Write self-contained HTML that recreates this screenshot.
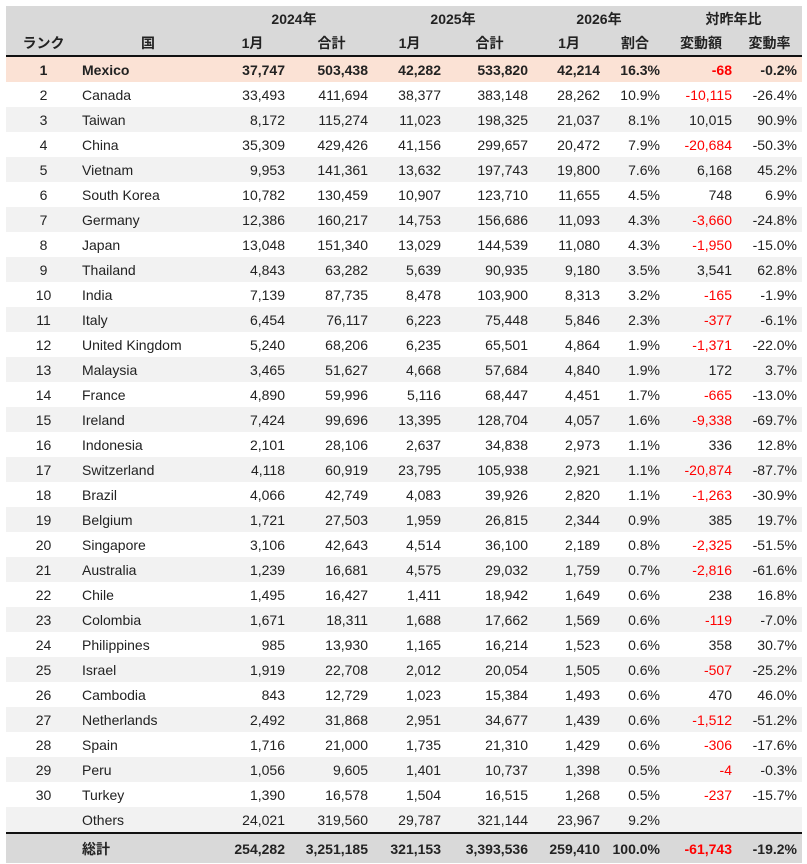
<!DOCTYPE html>
<html><head><meta charset="utf-8"><style>
body{margin:0;background:#fff;width:807px;height:864px;overflow:hidden}
table{position:absolute;left:6px;top:6px;border-collapse:collapse;table-layout:fixed;width:796px;font-family:"Liberation Sans","Noto Sans CJK JP",sans-serif;font-size:14px;color:#222}
td,th{padding:0 5px 0 0;height:25px;white-space:nowrap;text-align:right;overflow:visible}
th{background:#d9d9d9;font-weight:bold;text-align:center;padding:0}
tr.h2 th{border-bottom:2px solid #111;height:24px}
td.r{text-align:center;padding:0}
td.c{text-align:left;padding-left:1px}
tr.g td{background:#f2f2f2}
tr.m td{background:#fbe2d5;font-weight:bold}
tr.t td{background:#d9d9d9;font-weight:bold;border-top:2px solid #111;height:29px}
.n{color:#f00}
</style></head><body>
<table>
<colgroup><col style="width:75px"><col style="width:134px"><col style="width:75px"><col style="width:83px"><col style="width:73px"><col style="width:87px"><col style="width:72px"><col style="width:60px"><col style="width:72px"><col style="width:65px"></colgroup>
<tr><th></th><th></th><th colspan="2">2024年</th><th colspan="2">2025年</th><th colspan="2">2026年</th><th colspan="2">対昨年比</th></tr>
<tr class="h2"><th>ランク</th><th>国</th><th>1月</th><th>合計</th><th>1月</th><th>合計</th><th>1月</th><th>割合</th><th>変動額</th><th>変動率</th></tr>
<tr class="m"><td class="r">1</td><td class="c">Mexico</td><td>37,747</td><td>503,438</td><td>42,282</td><td>533,820</td><td>42,214</td><td>16.3%</td><td class="n">-68</td><td>-0.2%</td></tr>
<tr><td class="r">2</td><td class="c">Canada</td><td>33,493</td><td>411,694</td><td>38,377</td><td>383,148</td><td>28,262</td><td>10.9%</td><td class="n">-10,115</td><td>-26.4%</td></tr>
<tr class="g"><td class="r">3</td><td class="c">Taiwan</td><td>8,172</td><td>115,274</td><td>11,023</td><td>198,325</td><td>21,037</td><td>8.1%</td><td>10,015</td><td>90.9%</td></tr>
<tr><td class="r">4</td><td class="c">China</td><td>35,309</td><td>429,426</td><td>41,156</td><td>299,657</td><td>20,472</td><td>7.9%</td><td class="n">-20,684</td><td>-50.3%</td></tr>
<tr class="g"><td class="r">5</td><td class="c">Vietnam</td><td>9,953</td><td>141,361</td><td>13,632</td><td>197,743</td><td>19,800</td><td>7.6%</td><td>6,168</td><td>45.2%</td></tr>
<tr><td class="r">6</td><td class="c">South Korea</td><td>10,782</td><td>130,459</td><td>10,907</td><td>123,710</td><td>11,655</td><td>4.5%</td><td>748</td><td>6.9%</td></tr>
<tr class="g"><td class="r">7</td><td class="c">Germany</td><td>12,386</td><td>160,217</td><td>14,753</td><td>156,686</td><td>11,093</td><td>4.3%</td><td class="n">-3,660</td><td>-24.8%</td></tr>
<tr><td class="r">8</td><td class="c">Japan</td><td>13,048</td><td>151,340</td><td>13,029</td><td>144,539</td><td>11,080</td><td>4.3%</td><td class="n">-1,950</td><td>-15.0%</td></tr>
<tr class="g"><td class="r">9</td><td class="c">Thailand</td><td>4,843</td><td>63,282</td><td>5,639</td><td>90,935</td><td>9,180</td><td>3.5%</td><td>3,541</td><td>62.8%</td></tr>
<tr><td class="r">10</td><td class="c">India</td><td>7,139</td><td>87,735</td><td>8,478</td><td>103,900</td><td>8,313</td><td>3.2%</td><td class="n">-165</td><td>-1.9%</td></tr>
<tr class="g"><td class="r">11</td><td class="c">Italy</td><td>6,454</td><td>76,117</td><td>6,223</td><td>75,448</td><td>5,846</td><td>2.3%</td><td class="n">-377</td><td>-6.1%</td></tr>
<tr><td class="r">12</td><td class="c">United Kingdom</td><td>5,240</td><td>68,206</td><td>6,235</td><td>65,501</td><td>4,864</td><td>1.9%</td><td class="n">-1,371</td><td>-22.0%</td></tr>
<tr class="g"><td class="r">13</td><td class="c">Malaysia</td><td>3,465</td><td>51,627</td><td>4,668</td><td>57,684</td><td>4,840</td><td>1.9%</td><td>172</td><td>3.7%</td></tr>
<tr><td class="r">14</td><td class="c">France</td><td>4,890</td><td>59,996</td><td>5,116</td><td>68,447</td><td>4,451</td><td>1.7%</td><td class="n">-665</td><td>-13.0%</td></tr>
<tr class="g"><td class="r">15</td><td class="c">Ireland</td><td>7,424</td><td>99,696</td><td>13,395</td><td>128,704</td><td>4,057</td><td>1.6%</td><td class="n">-9,338</td><td>-69.7%</td></tr>
<tr><td class="r">16</td><td class="c">Indonesia</td><td>2,101</td><td>28,106</td><td>2,637</td><td>34,838</td><td>2,973</td><td>1.1%</td><td>336</td><td>12.8%</td></tr>
<tr class="g"><td class="r">17</td><td class="c">Switzerland</td><td>4,118</td><td>60,919</td><td>23,795</td><td>105,938</td><td>2,921</td><td>1.1%</td><td class="n">-20,874</td><td>-87.7%</td></tr>
<tr><td class="r">18</td><td class="c">Brazil</td><td>4,066</td><td>42,749</td><td>4,083</td><td>39,926</td><td>2,820</td><td>1.1%</td><td class="n">-1,263</td><td>-30.9%</td></tr>
<tr class="g"><td class="r">19</td><td class="c">Belgium</td><td>1,721</td><td>27,503</td><td>1,959</td><td>26,815</td><td>2,344</td><td>0.9%</td><td>385</td><td>19.7%</td></tr>
<tr><td class="r">20</td><td class="c">Singapore</td><td>3,106</td><td>42,643</td><td>4,514</td><td>36,100</td><td>2,189</td><td>0.8%</td><td class="n">-2,325</td><td>-51.5%</td></tr>
<tr class="g"><td class="r">21</td><td class="c">Australia</td><td>1,239</td><td>16,681</td><td>4,575</td><td>29,032</td><td>1,759</td><td>0.7%</td><td class="n">-2,816</td><td>-61.6%</td></tr>
<tr><td class="r">22</td><td class="c">Chile</td><td>1,495</td><td>16,427</td><td>1,411</td><td>18,942</td><td>1,649</td><td>0.6%</td><td>238</td><td>16.8%</td></tr>
<tr class="g"><td class="r">23</td><td class="c">Colombia</td><td>1,671</td><td>18,311</td><td>1,688</td><td>17,662</td><td>1,569</td><td>0.6%</td><td class="n">-119</td><td>-7.0%</td></tr>
<tr><td class="r">24</td><td class="c">Philippines</td><td>985</td><td>13,930</td><td>1,165</td><td>16,214</td><td>1,523</td><td>0.6%</td><td>358</td><td>30.7%</td></tr>
<tr class="g"><td class="r">25</td><td class="c">Israel</td><td>1,919</td><td>22,708</td><td>2,012</td><td>20,054</td><td>1,505</td><td>0.6%</td><td class="n">-507</td><td>-25.2%</td></tr>
<tr><td class="r">26</td><td class="c">Cambodia</td><td>843</td><td>12,729</td><td>1,023</td><td>15,384</td><td>1,493</td><td>0.6%</td><td>470</td><td>46.0%</td></tr>
<tr class="g"><td class="r">27</td><td class="c">Netherlands</td><td>2,492</td><td>31,868</td><td>2,951</td><td>34,677</td><td>1,439</td><td>0.6%</td><td class="n">-1,512</td><td>-51.2%</td></tr>
<tr><td class="r">28</td><td class="c">Spain</td><td>1,716</td><td>21,000</td><td>1,735</td><td>21,310</td><td>1,429</td><td>0.6%</td><td class="n">-306</td><td>-17.6%</td></tr>
<tr class="g"><td class="r">29</td><td class="c">Peru</td><td>1,056</td><td>9,605</td><td>1,401</td><td>10,737</td><td>1,398</td><td>0.5%</td><td class="n">-4</td><td>-0.3%</td></tr>
<tr><td class="r">30</td><td class="c">Turkey</td><td>1,390</td><td>16,578</td><td>1,504</td><td>16,515</td><td>1,268</td><td>0.5%</td><td class="n">-237</td><td>-15.7%</td></tr>
<tr class="g"><td class="r"></td><td class="c">Others</td><td>24,021</td><td>319,560</td><td>29,787</td><td>321,144</td><td>23,967</td><td>9.2%</td><td></td><td></td></tr>
<tr class="t"><td class="r"></td><td class="c">総計</td><td>254,282</td><td>3,251,185</td><td>321,153</td><td>3,393,536</td><td>259,410</td><td>100.0%</td><td class="n">-61,743</td><td>-19.2%</td></tr>
</table>
</body></html>
